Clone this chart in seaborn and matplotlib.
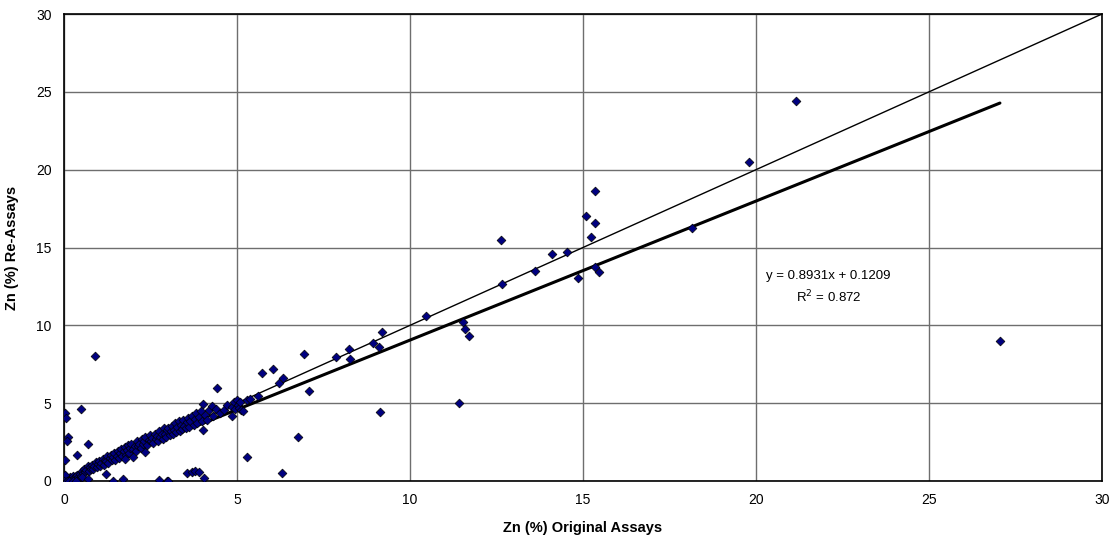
import numpy as np
import pandas as pd
import matplotlib
matplotlib.use("Agg")
import matplotlib.pyplot as plt
import seaborn as sns

# Zn assays: original (x) vs re-assay (y), in percent
original = [
    # near origin
    0.00, 0.02, 0.03, 0.05, 0.06, 0.08, 0.10, 0.12, 0.15, 0.18, 0.20, 0.22, 0.25, 0.28, 0.30,
    0.32, 0.35, 0.38, 0.40, 0.42, 0.45, 0.48, 0.02, 0.04, 0.01, 0.10, 0.15, 0.25, 0.35,
    # low-x outliers
    0.03, 0.06, 0.12, 0.09, 0.03, 0.38, 0.70, 0.50, 0.90,
    # 0.5 - 1.5
    0.52, 0.55, 0.58, 0.62, 0.65, 0.68, 0.72, 0.75, 0.78, 0.82, 0.85, 0.88, 0.92, 0.95, 0.98,
    1.02, 1.05, 1.08, 1.12, 1.15, 1.18, 1.22, 1.25, 1.28, 1.32, 1.35, 1.38, 1.42, 1.45, 1.48,
    # 1.5 - 3
    1.52, 1.55, 1.58, 1.62, 1.65, 1.68, 1.72, 1.75, 1.78, 1.82, 1.77, 1.85, 1.88, 1.92, 1.95,
    2.00, 2.00, 2.05, 2.08, 2.12, 2.15, 2.18, 2.22, 2.25, 2.28, 2.32, 2.34, 2.35, 2.40, 2.45,
    2.48, 2.52, 2.55, 2.58, 2.62, 2.65, 2.68, 2.72, 2.75, 2.78, 2.82, 2.85, 2.88, 2.92, 2.95, 2.98,
    # 3 - 5.6
    3.02, 3.05, 3.08, 3.12, 3.15, 3.18, 3.22, 3.25, 3.28, 3.32, 3.35, 3.38, 3.42, 3.45, 3.48,
    3.52, 3.55, 3.58, 3.62, 3.65, 3.70, 3.75, 3.78, 3.82, 3.85, 3.90, 3.95, 4.00, 4.01, 4.03,
    4.08, 4.12, 4.18, 4.27, 4.30, 4.38, 4.42, 4.50, 4.62, 4.70, 4.85, 4.85, 4.92, 4.95, 5.00,
    5.02, 5.05, 5.08, 5.12, 5.18, 5.28, 5.38, 5.60,
    # low re-assay outliers
    0.52, 0.69, 1.22, 1.42, 1.70, 2.75, 2.97, 3.00, 3.55, 3.70, 3.80, 3.90, 4.05, 5.28, 6.30,
    # 5.7 - 9.2
    5.72, 6.05, 6.20, 6.33, 6.94, 7.08, 6.76, 7.86, 8.27, 8.24, 8.93, 9.10, 9.20, 9.13,
    # higher grades
    10.46, 11.42, 11.53, 11.60, 11.70, 12.63, 12.67, 13.60, 14.10, 14.53, 14.86, 15.08, 15.23,
    15.35, 15.35, 15.35, 15.46, 18.15, 19.80, 21.15, 27.05,
]
reassay = [
    0.02, 0.05, 0.10, 0.00, 0.15, 0.05, 0.20, 0.08, 0.12, 0.25, 0.05, 0.18, 0.30, 0.15, 0.22,
    0.05, 0.30, 0.40, 0.28, 0.10, 0.45, 0.35, 0.30, 0.40, 0.00, 0.00, 0.00, 0.00, 0.00,
    4.35, 4.02, 2.80, 2.55, 1.35, 1.67, 2.38, 4.62, 8.05,
    0.64, 0.50, 0.80, 0.58, 0.70, 0.95, 0.66, 0.88, 0.74, 1.05, 0.80, 0.98, 1.22, 0.90, 1.08,
    1.30, 0.95, 1.18, 1.40, 1.05, 1.36, 1.28, 1.58, 1.16, 1.45, 1.70, 1.32, 1.52, 1.80, 1.38,
    1.62, 1.90, 1.48, 1.78, 2.05, 1.58, 1.92, 2.20, 1.70, 1.98, 1.40, 2.30, 1.82, 2.12, 2.40,
    1.54, 2.05, 2.28, 1.95, 2.55, 2.22, 2.40, 2.10, 2.70, 2.35, 2.58, 1.86, 2.80, 2.30, 2.62,
    2.95, 2.55, 2.78, 2.42, 3.05, 2.70, 2.88, 2.55, 3.20, 2.82, 3.00, 2.68, 3.38, 3.05, 2.82, 3.25,
    3.40, 2.95, 3.18, 3.55, 3.05, 3.30, 3.70, 3.15, 3.45, 3.85, 3.22, 3.60, 3.35, 3.95, 3.55,
    3.40, 3.78, 4.05, 3.50, 3.88, 4.20, 3.62, 3.98, 4.35, 3.72, 4.12, 4.50, 3.85, 3.28, 4.93,
    4.25, 3.95, 4.55, 4.80, 4.20, 4.62, 5.97, 4.35, 4.56, 4.90, 4.20, 4.75, 5.05, 4.65, 5.20,
    4.90, 4.70, 5.10, 4.55, 4.50, 5.20, 5.27, 5.46,
    0.27, 0.13, 0.45, 0.00, 0.13, 0.06, 0.00, 0.02, 0.50, 0.60, 0.65, 0.58, 0.20, 1.54, 0.50,
    6.94, 7.20, 6.28, 6.63, 8.15, 5.80, 2.83, 7.97, 7.83, 8.48, 8.86, 8.60, 9.56, 4.43,
    10.60, 5.00, 10.20, 9.76, 9.30, 15.48, 12.65, 13.50, 14.60, 14.70, 13.05, 17.00, 15.67,
    18.60, 16.56, 13.74, 13.40, 16.25, 20.50, 24.40, 9.00,
]

# Linear trend reported for the data set
slope = 0.8931
intercept = 0.1209
r_squared = 0.872

ticks = [0, 5, 10, 15, 20, 25, 30]
x_label = "Zn (%) Original Assays"
y_label = "Zn (%) Re-Assays"

df = pd.DataFrame({"original": original, "reassay": reassay})

sns.set_theme(style="white")
plt.rcParams["font.family"] = ["Liberation Sans", "DejaVu Sans"]
plt.rcParams["text.color"] = "black"
plt.rcParams["axes.labelcolor"] = "black"

fig = plt.figure(figsize=(11.19, 5.49), dpi=100)
ax = fig.add_axes([64 / 1119, 1 - 481 / 549, (1102 - 64) / 1119, (481 - 14) / 549])

ax.set_xlim(0, 30)
ax.set_ylim(0, 30)
ax.set_xticks(ticks)
ax.set_yticks(ticks)
ax.grid(True, color="#6e6e6e", linewidth=1.0)
ax.set_axisbelow(True)

# 1:1 reference line
ax.plot([0, 30], [0, 30], color="black", linewidth=1.0, zorder=2)

# Least-squares trend line over the range of the data
x_fit = np.array([0.0, max(original)])
ax.plot(x_fit, slope * x_fit + intercept, color="black", linewidth=2.2, zorder=2)

sns.scatterplot(data=df, x="original", y="reassay", ax=ax, marker="D", s=20,
                color="#000080", edgecolor="black", linewidth=0.5, zorder=3)

for side in ["top", "right", "bottom", "left"]:
    ax.spines[side].set_visible(True)
    ax.spines[side].set_color("black")
    ax.spines[side].set_linewidth(1.2)

ax.tick_params(axis="both", length=0, labelsize=10, colors="black", pad=9)
ax.set_xlabel(x_label, fontsize=10.5, fontweight="bold", labelpad=10, color="black")
ax.set_ylabel(y_label, fontsize=10.5, fontweight="bold", labelpad=12, color="black")

ax.text(22.1, 13.2, f"y = {slope:.4f}x + {intercept:.4f}", ha="center", va="center",
        fontsize=9.5, color="black")
ax.text(22.1, 11.8, f"R$^2$ = {r_squared:.3f}", ha="center", va="center",
        fontsize=9.5, color="black")

fig.savefig("out.png", dpi=100, facecolor="white")
